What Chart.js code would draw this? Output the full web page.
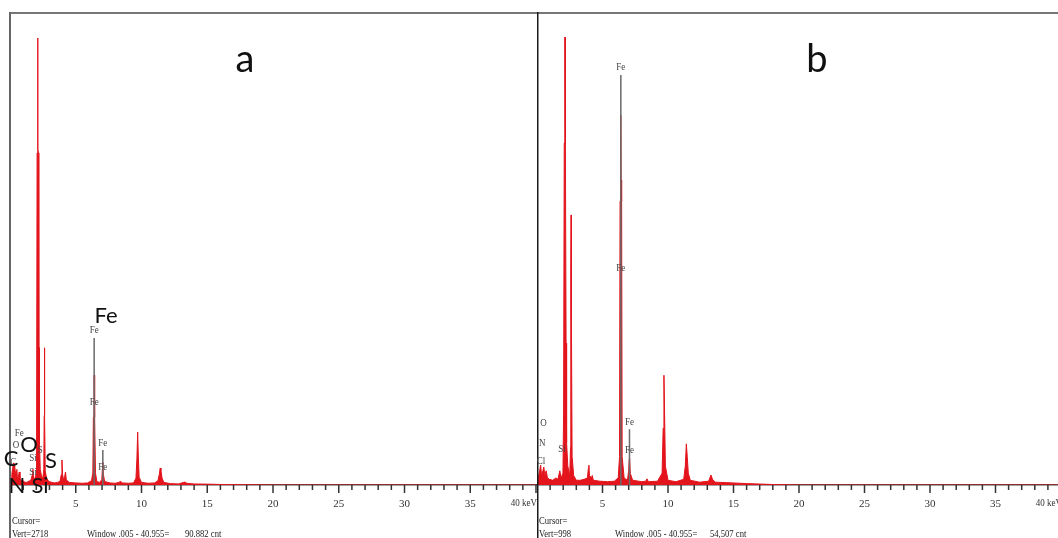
<!DOCTYPE html>
<html><head><meta charset="utf-8">
<script src="https://cdn.jsdelivr.net/npm/chart.js@4.4.1/dist/chart.umd.min.js"></script>
<style>
html,body{margin:0;padding:0;background:#fff;overflow:hidden;width:1058px;height:538px;}
#wa{position:absolute;left:0;top:0;width:537px;height:538px;}
#wb{position:absolute;left:537px;top:0;width:525px;height:538px;}
canvas{display:block;}
</style></head><body>
<div id="wa"><canvas id="ca" width="537" height="538"></canvas></div>
<div id="wb"><canvas id="cb" width="525" height="538"></canvas></div>
<script>
// ---- data: panel a ----
const energyA = [0.00,0.08,0.14,0.20,0.26,0.30,0.36,0.42,0.48,0.52,0.56,0.62,0.70,0.76,0.84,0.95,1.05,1.25,1.45,1.60,1.70,1.74,1.80,1.90,1.98,2.02,2.06,2.105,2.11,2.12,2.125,2.17,2.19,2.21,2.24,2.30,2.40,2.50,2.57,2.60,2.62,2.64,2.68,2.78,2.95,3.20,3.40,3.60,3.80,3.90,3.95,4.00,4.08,4.16,4.22,4.28,4.50,5.00,5.50,5.90,6.20,6.30,6.34,6.385,6.40,6.415,6.46,6.50,6.60,6.80,6.98,7.03,7.06,7.10,7.20,7.60,8.00,8.30,8.40,8.50,9.00,9.40,9.58,9.65,9.71,9.76,9.82,10.00,10.50,11.00,11.25,11.35,11.42,11.48,11.56,11.70,12.20,12.80,13.30,13.45,14.00,15.00,16.00,17.00,20.00,40.00];
const countsA = [0,30,60,95,127,80,110,60,80,90,50,40,75,40,25,30,18,15,22,30,60,90,35,40,60,200,1912,1930,2574,2574,1930,1912,600,790,250,90,50,40,90,400,790,400,80,40,20,15,12,15,20,60,144,60,25,50,75,30,15,12,10,12,25,70,390,400,633,400,390,70,20,15,30,100,132,60,20,12,10,15,23,12,10,12,40,150,305,160,45,15,10,12,25,60,98,85,40,15,8,6,17,10,6,5,3,2,0,0];
// ---- data: panel b ----
const energyB = [0.00,0.10,0.20,0.28,0.35,0.45,0.52,0.60,0.70,0.80,0.95,1.20,1.45,1.60,1.74,1.85,1.98,2.03,2.08,2.125,2.13,2.14,2.145,2.19,2.22,2.26,2.35,2.50,2.56,2.58,2.605,2.615,2.64,2.68,2.80,3.00,3.30,3.60,3.85,3.92,3.96,4.01,4.15,4.22,4.30,4.80,5.40,5.90,6.20,6.30,6.34,6.385,6.40,6.415,6.46,6.50,6.65,6.90,7.00,7.04,7.07,7.12,7.30,8.00,8.30,8.40,8.50,9.20,9.55,9.63,9.69,9.74,9.80,10.00,10.60,11.20,11.32,11.40,11.47,11.55,11.70,12.40,13.10,13.28,13.40,13.60,14.50,16.00,18.00,20.00,40.00];
const countsB = [0,15,30,42,20,30,38,20,30,15,12,10,15,12,30,15,25,150,723,730,947,947,730,723,300,90,40,20,80,450,571,571,350,60,20,10,10,12,15,35,42,20,15,20,10,8,7,8,15,60,600,645,782,645,600,60,15,10,30,55,57,25,10,7,8,13,7,8,25,120,232,150,40,10,7,12,40,87,60,25,10,6,8,21,12,6,5,3,1,0,0];
// ---- Fe line markers ----
const markerEnergies = [6.40, 7.06];
const markerTopA = [846, 201];
const markerTopB = [867, 118];
// ---- axis ----
const vertA = 2718, vertB = 998;
const keVMin = 0, keVMax = 40;
const majorTicks = [5,10,15,20,25,30,35,40];

function squeezedText(ctx, txt, x, y, sx) {
  ctx.save(); ctx.translate(x, y); ctx.scale(sx, 1); ctx.fillText(txt, 0, 0); ctx.restore();
}

const annotPlugin = {
  id: 'annot',
  afterDraw(chart) {
    const o = chart.options.plugins.annot;
    const ctx = chart.ctx, xs = chart.scales.x, ys = chart.scales.y, ca = chart.chartArea;
    const H = chart.height;
    ctx.save();
    // tick marks (minor every 1 keV, major every 5 keV)
    ctx.strokeStyle = '#333'; ctx.lineWidth = 1.5;
    xs.ticks.forEach(t => {
      if (t.value <= keVMin) return;
      const px = xs.getPixelForValue(t.value);
      const len = majorTicks.includes(t.value) ? 8 : 5;
      ctx.beginPath(); ctx.moveTo(px, ca.bottom); ctx.lineTo(px, ca.bottom + len); ctx.stroke();
    });
    // 40 keV label
    ctx.fillStyle = '#333'; ctx.font = '11px "Liberation Serif"';
    ctx.textAlign = 'right'; ctx.textBaseline = 'middle';
    squeezedText(ctx, '40 keV', xs.getPixelForValue(40) + 1, 503, 0.82);
    // frame
    ctx.strokeStyle = '#777'; ctx.lineWidth = 2;
    ctx.beginPath(); ctx.moveTo(ca.left, ca.top); ctx.lineTo(chart.width, ca.top); ctx.stroke();
    ctx.strokeStyle = o.leftColor;
    const lx = ca.left + o.leftOff;
    ctx.beginPath(); ctx.moveTo(lx, ca.top - 1); ctx.lineTo(lx, H); ctx.stroke();
    // small serif labels in data coords
    ctx.fillStyle = '#444'; ctx.font = '10px "Liberation Serif"';
    ctx.textAlign = 'center'; ctx.textBaseline = 'middle';
    o.small.forEach(l => squeezedText(ctx, l[0], xs.getPixelForValue(l[1]), ys.getPixelForValue(l[2]), 0.9));
    // big element labels (pixel coords)
    ctx.fillStyle = '#111'; ctx.font = '22px Lato';
    o.big.forEach(l => ctx.fillText(l[0], l[1], l[2]));
    // panel letter
    ctx.font = '38px Lato';
    ctx.fillText(o.letter[0], o.letter[1], o.letter[2]);
    // footer
    ctx.fillStyle = '#222'; ctx.font = '10.5px "Liberation Serif"'; ctx.textAlign = 'left'; ctx.textBaseline = 'alphabetic';
    o.footer.forEach(l => squeezedText(ctx, l[0], l[1], l[2], 0.82));
    ctx.restore();
  }
};

function makeChart(id, energies, counts, markerTop, vert, padLeft, annot) {
  const spec = energies.map((e, i) => ({x: e, y: counts[i]}));
  const marks = [];
  markerEnergies.forEach((e, i) => { marks.push({x: e, y: 0}, {x: e, y: markerTop[i]}, {x: e + 0.001, y: null}); });
  return new Chart(document.getElementById(id), {
    type: 'line',
    data: { datasets: [
      { data: marks, borderColor: '#6a6a6a', borderWidth: 1.5, pointRadius: 0, fill: false, spanGaps: false, order: 0 },
      { data: spec, borderColor: '#e3141c', backgroundColor: '#e3141c', borderWidth: 1, pointRadius: 0, fill: 'origin', tension: 0, order: 1 }
    ]},
    options: {
      responsive: false, animation: false, maintainAspectRatio: false,
      layout: { autoPadding: false, padding: { left: padLeft, right: 1, top: 13, bottom: 0 } },
      plugins: { legend: { display: false }, tooltip: { enabled: false }, annot: annot },
      scales: {
        x: {
          type: 'linear', min: keVMin, max: keVMax,
          afterFit: s => { s.height = 53; },
          ticks: { stepSize: 1, autoSkip: false, maxRotation: 0, padding: 0, color: '#333',
            font: { family: 'Liberation Serif', size: 11 },
            callback: v => (v % 5 === 0 && v > 0 && v < 40) ? String(v) : '' },
          grid: { display: true, drawOnChartArea: false, drawTicks: true, tickLength: 13, tickColor: 'rgba(0,0,0,0)' },
          border: { display: true, color: '#444', width: 1.5 }
        },
        y: { display: false, min: 0, max: vert }
      }
    },
    plugins: [annotPlugin]
  });
}

makeChart('ca', energyA, countsA, markerTopA, vertA, 10, {
  leftColor: '#666', leftOff: 0,
  small: [['Fe',6.40,892],['Fe',6.40,478],['Fe',7.06,242],['Fe',7.06,104],
          ['Fe',0.70,299],['O',0.45,230],['Si',1.74,155],['S',2.30,201],['Si',1.74,75],['C',0.25,130]],
  big: [['Fe',106,316],['C',11,459],['O',29,445],['S',51,461],['N',17,486],['Si',40,486]],
  letter: ['a',245,60],
  footer: [['Cursor=',12,524],['Vert=2718',12,537],['Window .005 - 40.955=',87,537],['90.882 cnt',185,537]]
});
makeChart('cb', energyB, countsB, markerTopB, vertB, 0, {
  leftColor: '#1a1a1a', leftOff: 0.5,
  small: [['Fe',6.40,882],['Fe',6.40,459],['Fe',7.06,133],['Fe',7.06,74],
          ['O',0.50,131],['N',0.40,89],['Cl',0.30,51],['Si',1.90,76]],
  big: [['O',552,421],['N',550,442],['Si',572,457],['C',550,471],['S',572,480]],
  letter: ['b',280,60],
  footer: [['Cursor=',2,524],['Vert=998',2,537],['Window .005 - 40.955=',78,537],['54,507 cnt',173,537]]
});
</script>
</body></html>
